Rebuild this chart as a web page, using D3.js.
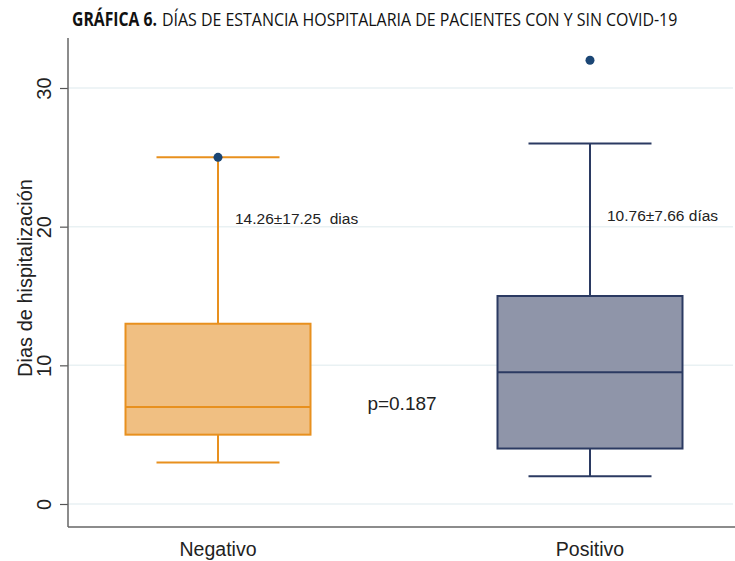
<!DOCTYPE html>
<html>
<head>
<meta charset="utf-8">
<script src="https://cdn.jsdelivr.net/npm/d3@7"></script>
<style>
  body { margin: 0; background: #fff; }
  svg { display: block; font-family: 'Liberation Sans', Arial, sans-serif; }
</style>
</head>
<body>
<div id="main"></div>
<script>
// data
const groups = ['Negativo', 'Positivo'];
const whiskerLow = [3, 2];
const q1 = [5, 4];
const median = [7, 9.5];
const q3 = [13, 15];
const whiskerHigh = [25, 26];
const outliers = [[25], [32]];
const meanSd = ['14.26±17.25  dias', '10.76±7.66 días'];
const meanSdAt = [20.6, 20.8];
const yTicks = [0, 10, 20, 30];

const fills = ['#f0bf82', '#8f95a9'];
const strokes = ['#e8901e', '#2b3a62'];

const width = 735;
const height = 561;
const margin = { top: 38, right: 0, bottom: 35, left: 68 };

const svg = d3.select('#main').append('svg')
  .attr('width', width)
  .attr('height', height);

// title: squeeze each piece horizontally to the width it has in the figure
const titleFont = "'Liberation Sans Narrow', 'Open Sans', sans-serif";
function titlePart(str, x0, x1, bold) {
  const t = svg.append('text')
    .style('font-family', titleFont)
    .style('font-size', '19px')
    .style('font-weight', bold ? 'bold' : 'normal')
    .style('fill', '#111')
    .text(str);
  const len = t.node().getComputedTextLength();
  t.attr('transform', `translate(${x0},26) scale(${(x1 - x0) / len},1)`);
}
titlePart('GRÁFICA 6.', 72, 157, true);
titlePart('DÍAS DE ESTANCIA HOSPITALARIA DE PACIENTES CON Y SIN COVID-19', 162, 678, false);

const y = d3.scaleLinear().domain([0, 30]).range([504, 88]);
const x = d3.scalePoint().domain(groups).range([218, 590]);

const plotBottom = height - margin.bottom + 1;

// grid
svg.append('g')
  .selectAll('line')
  .data(yTicks)
  .enter()
  .append('line')
  .attr('x1', margin.left)
  .attr('x2', width - 2)
  .attr('y1', (d) => y(d))
  .attr('y2', (d) => y(d))
  .style('stroke', '#e9f1f3')
  .style('stroke-width', 1.5);

// y axis
const yAxis = svg.append('g')
  .attr('transform', `translate(${margin.left},0)`)
  .call(d3.axisLeft(y).tickValues(yTicks).tickSize(8).tickPadding(0).tickFormat(d3.format('d')));
yAxis.select('.domain').remove();
yAxis.selectAll('.tick line').style('stroke', '#555').style('stroke-width', 1.2);
yAxis.selectAll('.tick text')
  .attr('transform', 'translate(-24,0) rotate(-90)')
  .attr('x', 0)
  .attr('dy', '0.35em')
  .style('text-anchor', 'middle')
  .style('font-size', '20px')
  .style('fill', '#222');

svg.append('line')
  .attr('x1', margin.left).attr('x2', margin.left)
  .attr('y1', margin.top).attr('y2', plotBottom)
  .style('stroke', '#666').style('stroke-width', 1.5);
svg.append('line')
  .attr('x1', margin.left).attr('x2', width)
  .attr('y1', plotBottom).attr('y2', plotBottom)
  .style('stroke', '#666').style('stroke-width', 1.5);

svg.append('text')
  .attr('transform', 'translate(32,278) rotate(-90)')
  .style('text-anchor', 'middle')
  .style('font-size', '20px')
  .style('fill', '#222')
  .text('Dias de hispitalización');

// x labels
svg.append('g')
  .selectAll('text')
  .data(groups)
  .enter()
  .append('text')
  .attr('x', (d) => x(d))
  .attr('y', 556)
  .style('text-anchor', 'middle')
  .style('font-size', '19.5px')
  .style('fill', '#222')
  .text((d) => d);

const boxW = 185;
const capW = 123;

const boxes = svg.append('g')
  .selectAll('g')
  .data(groups)
  .enter()
  .append('g')
  .attr('transform', (d) => `translate(${x(d)},0)`);

boxes.append('line')
  .attr('y1', (d, i) => y(whiskerLow[i]))
  .attr('y2', (d, i) => y(q1[i]))
  .style('stroke', (d, i) => strokes[i]).style('stroke-width', 2);
boxes.append('line')
  .attr('y1', (d, i) => y(q3[i]))
  .attr('y2', (d, i) => y(whiskerHigh[i]))
  .style('stroke', (d, i) => strokes[i]).style('stroke-width', 2);
boxes.append('line')
  .attr('x1', -capW / 2).attr('x2', capW / 2)
  .attr('y1', (d, i) => y(whiskerLow[i]))
  .attr('y2', (d, i) => y(whiskerLow[i]))
  .style('stroke', (d, i) => strokes[i]).style('stroke-width', 2);
boxes.append('line')
  .attr('x1', -capW / 2).attr('x2', capW / 2)
  .attr('y1', (d, i) => y(whiskerHigh[i]))
  .attr('y2', (d, i) => y(whiskerHigh[i]))
  .style('stroke', (d, i) => strokes[i]).style('stroke-width', 2);
boxes.append('rect')
  .attr('x', -boxW / 2)
  .attr('width', boxW)
  .attr('y', (d, i) => y(q3[i]))
  .attr('height', (d, i) => y(q1[i]) - y(q3[i]))
  .style('fill', (d, i) => fills[i])
  .style('stroke', (d, i) => strokes[i])
  .style('stroke-width', 2);
boxes.append('line')
  .attr('x1', -boxW / 2).attr('x2', boxW / 2)
  .attr('y1', (d, i) => y(median[i]))
  .attr('y2', (d, i) => y(median[i]))
  .style('stroke', (d, i) => strokes[i]).style('stroke-width', 2);
boxes.each(function (d, i) {
  d3.select(this).selectAll('circle')
    .data(outliers[i])
    .enter()
    .append('circle')
    .attr('r', 4.5)
    .attr('cy', (v) => y(v))
    .style('fill', '#1b4675');
});
boxes.append('text')
  .attr('x', 17)
  .attr('y', (d, i) => y(meanSdAt[i]))
  .attr('dy', '0.35em')
  .style('white-space', 'pre')
  .style('font-size', '15.5px')
  .style('fill', '#222')
  .text((d, i) => meanSd[i]);

svg.append('text')
  .attr('x', 402)
  .attr('y', 403)
  .attr('dy', '0.35em')
  .style('text-anchor', 'middle')
  .style('font-size', '19px')
  .style('fill', '#222')
  .text('p=0.187');
</script>
</body>
</html>
